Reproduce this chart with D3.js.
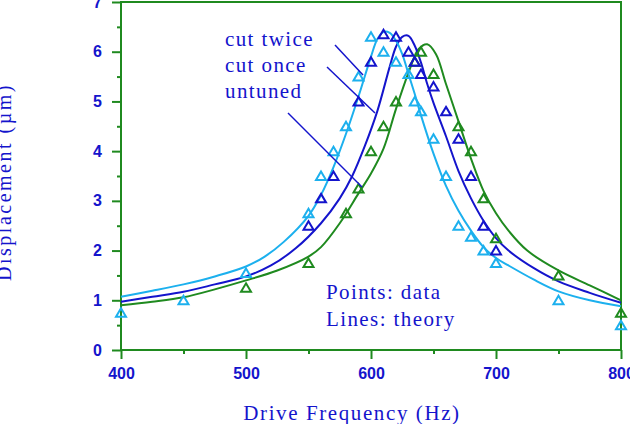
<!DOCTYPE html>
<html><head><meta charset="utf-8">
<script src="https://cdn.jsdelivr.net/npm/d3@7/dist/d3.min.js"></script>
<style>
html,body{margin:0;padding:0;background:#fff;}
svg{display:block;}
</style></head><body>
<svg id="chart" width="630" height="424"></svg>
<script>
// ---------- data ----------
const xTicks = [400, 500, 600, 700, 800];
const xMinorTicks = [450, 550, 650, 750];
const yTicks = [0, 1, 2, 3, 4, 5, 6, 7];
const yMinorTicks = [0.5, 1.5, 2.5, 3.5, 4.5, 5.5, 6.5];

const seriesNames = ["cut twice", "cut once", "untuned"];

// measured points (frequency Hz, displacement µm)
const twiceFreq = [400, 450, 500, 550, 560, 570, 580, 590, 600, 610, 620, 630, 635, 640, 650, 660, 670, 680, 690, 700, 750, 800];
const twiceData = [0.75, 1.0, 1.55, 2.75, 3.5, 4.0, 4.5, 5.5, 6.3, 6.0, 5.8, 5.55, 5.0, 4.8, 4.25, 3.5, 2.5, 2.28, 2.0, 1.75, 1.0, 0.5];

const onceFreq = [550, 560, 570, 590, 600, 610, 620, 630, 635, 640, 650, 660, 670, 680, 690, 700];
const onceData = [2.5, 3.05, 3.5, 5.0, 5.8, 6.35, 6.3, 6.0, 5.8, 5.55, 5.3, 4.8, 4.25, 3.5, 2.5, 2.0];

const untunedFreq = [500, 550, 580, 590, 600, 610, 620, 635, 640, 650, 670, 680, 690, 700, 750, 800];
const untunedData = [1.25, 1.75, 2.75, 3.25, 4.0, 4.5, 5.0, 5.8, 6.0, 5.55, 4.5, 4.0, 3.05, 2.25, 1.5, 0.75];

// theory curves
const twiceTheoryFreq = [400, 425, 450, 475, 500, 515, 530, 550, 560, 570, 580, 590, 600, 605, 610, 615, 620, 625, 630, 635, 640, 650, 660, 670, 680, 690, 700, 710, 730, 750, 775, 800];
const twiceTheory = [1.07, 1.19, 1.32, 1.48, 1.68, 1.88, 2.17, 2.7, 3.12, 3.68, 4.35, 5.1, 5.9, 6.25, 6.4, 6.38, 6.22, 5.95, 5.55, 5.15, 4.72, 3.95, 3.3, 2.8, 2.4, 2.07, 1.85, 1.7, 1.42, 1.18, 1.0, 0.88];

const onceTheoryFreq = [400, 425, 450, 475, 500, 520, 540, 560, 575, 585, 595, 605, 615, 620, 625, 630, 635, 640, 645, 650, 660, 670, 680, 690, 700, 710, 730, 750, 775, 800];
const onceTheory = [0.97, 1.07, 1.17, 1.32, 1.48, 1.7, 2.05, 2.55, 3.05, 3.5, 4.1, 4.8, 5.7, 6.1, 6.3, 6.32, 6.12, 5.78, 5.35, 4.97, 4.3, 3.6, 3.05, 2.6, 2.25, 2.0, 1.65, 1.38, 1.15, 0.95];

const untunedTheoryFreq = [400, 425, 450, 475, 500, 525, 550, 560, 575, 590, 600, 610, 620, 630, 638, 645, 652, 660, 670, 680, 690, 700, 710, 725, 750, 775, 800];
const untunedTheory = [0.9, 0.97, 1.06, 1.22, 1.4, 1.6, 1.88, 2.07, 2.55, 3.15, 3.55, 4.05, 4.85, 5.58, 6.05, 6.15, 5.95, 5.35, 4.6, 3.85, 3.2, 2.75, 2.4, 2.0, 1.6, 1.3, 1.0];

const colors = ["#1cb0ee", "#1414cc", "#1f8a1f"];
const axisColor = "#1f8a1f";
const textColor = "#1414cc";

// ---------- chart ----------
const svg = d3.select("#chart");
const x = d3.scaleLinear().domain([400, 800]).range([121, 621]);
const y = d3.scaleLinear().domain([0, 7]).range([350, 2]);

const tickFont = "bold 16px 'Liberation Sans', Arial, sans-serif";
const serif = "'Liberation Serif', 'Times New Roman', serif";

// minor ticks
svg.append("g").attr("transform", "translate(0,350)")
  .call(d3.axisBottom(x).tickValues(xMinorTicks).tickSize(4).tickFormat(""))
  .call(g => g.select(".domain").remove());
svg.append("g").attr("transform", "translate(121,0)")
  .call(d3.axisLeft(y).tickValues(yMinorTicks).tickSize(4).tickFormat(""))
  .call(g => g.select(".domain").remove());

// major ticks + labels
svg.append("g").attr("transform", "translate(0,350)")
  .call(d3.axisBottom(x).tickValues(xTicks).tickSize(9).tickPadding(9).tickFormat(d3.format("d")))
  .call(g => g.select(".domain").remove());
svg.append("g").attr("transform", "translate(121,0)")
  .call(d3.axisLeft(y).tickValues(yTicks).tickSize(9).tickPadding(10).tickFormat(d3.format("d")))
  .call(g => g.select(".domain").remove());

svg.selectAll(".tick line").attr("stroke", axisColor).attr("stroke-width", 2);
svg.selectAll(".tick text").attr("fill", textColor).style("font", tickFont);

// frame
svg.append("rect").attr("x", x(400)).attr("y", y(7))
  .attr("width", x(800) - x(400)).attr("height", y(0) - y(7))
  .attr("fill", "none").attr("stroke", axisColor).attr("stroke-width", 2);

// theory lines
const line = d3.line().x(d => x(d[0])).y(d => y(d[1])).curve(d3.curveCatmullRom.alpha(0.5));
const theory = [
  d3.zip(twiceTheoryFreq, twiceTheory),
  d3.zip(onceTheoryFreq, onceTheory),
  d3.zip(untunedTheoryFreq, untunedTheory)
];
const points = [
  d3.zip(twiceFreq, twiceData),
  d3.zip(onceFreq, onceData),
  d3.zip(untunedFreq, untunedData)
];

[2, 1, 0].forEach(i => {
  svg.append("path").datum(theory[i])
    .attr("d", line).attr("fill", "none")
    .attr("stroke", colors[i]).attr("stroke-width", 2);
});

const tri = "M0,-4.5 L5,4 L-5,4 Z";
[2, 1, 0].forEach(i => {
  svg.append("g").selectAll("path").data(points[i]).join("path")
    .attr("transform", d => `translate(${x(d[0])},${y(d[1])})`)
    .attr("d", tri).attr("fill", "none")
    .attr("stroke", colors[i]).attr("stroke-width", 2);
});

// annotations
const annoStyle = s => s.attr("fill", textColor).style("font-family", serif)
  .style("font-size", "21px").style("letter-spacing", "1.4px");
const labelY = [46, 72, 98];
seriesNames.forEach((n, i) => {
  svg.append("text").attr("x", 225).attr("y", labelY[i]).text(n).call(annoStyle);
});
const pointers = [
  [[335, 45], [363, 75]],
  [[327, 67], [375, 113]],
  [[288, 113], [362, 187]]
];
pointers.forEach(p => {
  svg.append("line").attr("x1", p[0][0]).attr("y1", p[0][1]).attr("x2", p[1][0]).attr("y2", p[1][1])
    .attr("stroke", textColor).attr("stroke-width", 1.5);
});

svg.append("text").attr("x", 326).attr("y", 299).text("Points: data").call(annoStyle);
svg.append("text").attr("x", 326).attr("y", 326).text("Lines: theory").call(annoStyle);

// axis titles
svg.append("text").attr("x", 352).attr("y", 420).attr("text-anchor", "middle")
  .text("Drive Frequency (Hz)")
  .attr("fill", textColor).style("font-family", serif).style("font-size", "21px").style("letter-spacing", "1.6px");
svg.append("text").attr("transform", "translate(11,182) rotate(-90)").attr("text-anchor", "middle")
  .text("Displacement (\u00b5m)")
  .attr("fill", textColor).style("font-family", serif).style("font-size", "20px").style("letter-spacing", "2.5px");
</script>
</body></html>
